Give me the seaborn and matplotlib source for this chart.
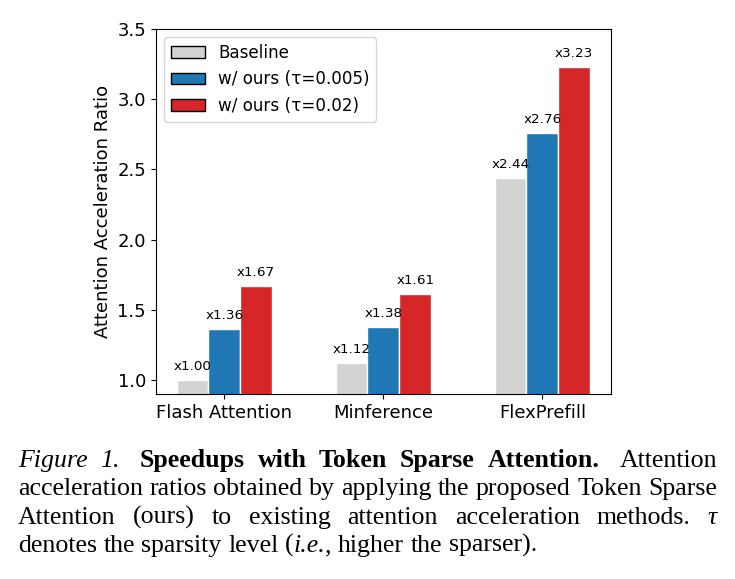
import numpy as np
import pandas as pd
import matplotlib.pyplot as plt
import seaborn as sns
from matplotlib.patches import Patch
from matplotlib.transforms import IdentityTransform

# Datos
metodos = ['Flash Attention', 'Minference', 'FlexPrefill']
variantes = ['Baseline', 'w/ ours (τ=0.005)', 'w/ ours (τ=0.02)']
baseline = [1.00, 1.12, 2.44]
ours_005 = [1.36, 1.38, 2.76]
ours_002 = [1.67, 1.61, 3.23]
colores = ['#d3d3d3', '#1f77b4', '#d62728']
yticks = [1.0, 1.5, 2.0, 2.5, 3.0, 3.5]

df = pd.DataFrame({
    'metodo': metodos * 3,
    'variante': np.repeat(variantes, len(metodos)),
    'ratio': baseline + ours_005 + ours_002,
})

fig = plt.figure(figsize=(7.35, 5.79), dpi=100)
ax = fig.add_axes([0.212, 0.3195, 0.619, 0.6305])

sns.barplot(data=df, x='metodo', y='ratio', hue='variante', palette=colores,
            saturation=1, width=0.6, gap=0, edgecolor='white', linewidth=1,
            ax=ax, legend=False)

# Etiquetas arriba de cada barra
for cont, vals in zip(ax.containers, [baseline, ours_005, ours_002]):
    ax.bar_label(cont, labels=[f'x{v:.2f}' for v in vals], padding=5, fontsize=9.7)

ax.set_xlim(-0.43, 2.43)
ax.set_ylim(0.9, 3.5)
ax.set_yticks(yticks)
ax.set_xlabel('')
ax.set_ylabel('Attention Acceleration Ratio', fontsize=13)
ax.tick_params(axis='both', labelsize=13)

# Leyenda con bordes negros
handles = [Patch(facecolor=c, edgecolor='black', label=l) for c, l in zip(colores, variantes)]
ax.legend(handles=handles, loc='upper left', fontsize=12.1)

# Caption justificado
caption = [
    [('Figure', 'italic', 'normal'), ('1.', 'italic', 'normal'),
     ('Speedups', 'normal', 'bold'), ('with', 'normal', 'bold'), ('Token', 'normal', 'bold'),
     ('Sparse', 'normal', 'bold'), ('Attention.', 'normal', 'bold'), ('Attention', 'normal', 'normal')],
    [(w, 'normal', 'normal') for w in 'acceleration ratios obtained by applying the proposed Token Sparse'.split()],
    [(w, 'normal', 'normal') for w in 'Attention (ours) to existing attention acceleration methods.'.split()]
    + [('τ', 'italic', 'normal')],
    [(w, 'normal', 'normal') for w in 'denotes the sparsity level'.split()]
    + [('(', 'normal', 'normal'), ('i.e.', 'italic', 'normal'), (',', 'normal', 'normal'),
       ('higher', 'normal', 'normal'), ('the', 'normal', 'normal'), ('sparser).', 'normal', 'normal')],
]
baselines = [467, 495, 524, 552]
x0, x1 = 18, 717
fs = 18.6

fig.canvas.draw()
renderer = fig.canvas.get_renderer()
for i, (linea, yb) in enumerate(zip(caption, baselines)):
    textos = []
    for w, st, wt in linea:
        t = fig.text(0, 579 - yb, w, transform=IdentityTransform(), family='Liberation Serif',
                     style=st, weight=wt, fontsize=fs, va='baseline', ha='left')
        textos.append(t)
    anchos = [t.get_window_extent(renderer).width for t in textos]
    palabras = [w for w, _, _ in linea]
    # pegar puntuacion sin espacio
    pegado = [False] + [p == ',' or palabras[k] == '(' for k, p in enumerate(palabras[1:])]
    # espacios mas grandes despues de fin de frase
    pesos = [0] + [0 if pg else (1.6 if palabras[k].endswith('.') and i == 0 else 1)
                   for k, pg in enumerate(pegado[1:])]
    espacio = fs * 100 / 72 * 0.25
    if i < len(caption) - 1:
        espacio = (x1 - x0 - sum(anchos)) / sum(pesos)
    x = x0
    for t, a, pw in zip(textos, anchos, pesos):
        x += espacio * pw
        t.set_x(x)
        x += a

fig.savefig('out.png', dpi=100)
